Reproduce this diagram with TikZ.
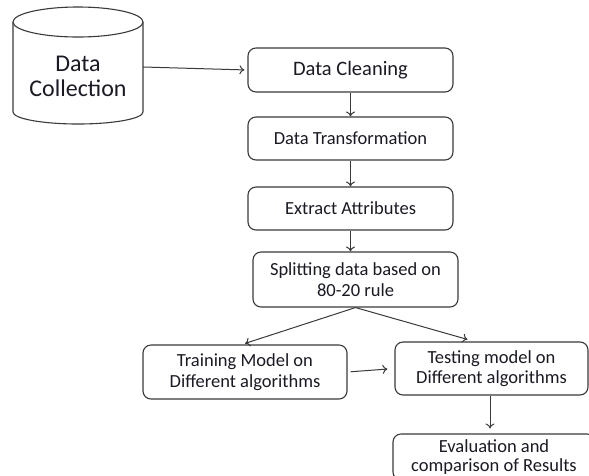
\documentclass[tikz,border=0pt]{standalone}
\usepackage{fontspec}
\setmainfont{Carlito}
\usetikzlibrary{arrows.meta}
\definecolor{ln}{HTML}{3A3A3A}
\definecolor{tx}{HTML}{1A1A24}
\tikzset{
  box/.style={draw=ln, line width=1.1pt, rounded corners=8pt, fill=white, text=tx, align=center, inner sep=0pt},
  conn/.style={draw=ln, line width=1pt, -{To[length=5pt,width=9pt]}},
}
\begin{document}
\begin{tikzpicture}[x=1pt,y=-1pt]
\useasboundingbox (0,0) rectangle (589,475);
% cylinder
\draw[ln, line width=1.1pt, fill=white] (13,22) -- (13,112) arc[start angle=180, end angle=0, x radius=65, y radius=12] -- (143,22);
\draw[ln, line width=1.1pt, fill=white] (78,22) ellipse [x radius=65, y radius=15];
\node[text=tx, align=center, font=\fontsize{24}{25}\selectfont, minimum width=130pt, minimum height=40pt, inner sep=0pt] (coll) at (78,76) {Data\\Collection};

\node[box, minimum width=205pt, minimum height=44pt, font=\fontsize{20.5}{22}\selectfont] (clean) at (350.5,70) {Data Cleaning};
\node[box, minimum width=205pt, minimum height=43pt, font=\fontsize{18.5}{20}\selectfont] (trans) at (350.5,138.5) {Data Transformation};
\node[box, minimum width=205pt, minimum height=43pt, font=\fontsize{18.5}{20}\selectfont] (extract) at (350.5,208.5) {Extract Attributes};
\node[box, minimum width=205pt, minimum height=55pt, font=\fontsize{18.5}{21}\selectfont] (split) at (355.5,279.5) {Splitting data based on\\80-20 rule};
\node[box, minimum width=204pt, minimum height=54pt, font=\fontsize{18.5}{20.5}\selectfont] (train) at (245,372) {Training Model on\\Different algorithms};
\node[box, minimum width=193pt, minimum height=53pt, font=\fontsize{18.5}{20.5}\selectfont] (test) at (491.5,368.5) {Testing model on\\Different algorithms};
\node[box, minimum width=202pt, minimum height=46pt, font=\fontsize{18.5}{18.5}\selectfont] (eval) at (494,457) {Evaluation and\\comparison of Results};

\draw[conn, shorten >=3pt] ([yshift=9pt]coll.east) -- (clean.west);
\draw[conn] (clean.south) -- (trans.north);
\draw[conn] (trans.south) -- (extract.north);
\draw[conn] ([xshift=-5pt]split.north |- extract.south) -- ([xshift=-5pt]split.north);
\draw[conn] (split.south) -- ([yshift=1pt]train.north);
\draw[conn] (split.south) -- ([xshift=-24pt,yshift=2pt]test.north);
\draw[conn, shorten <=3pt, shorten >=7pt] (train.east) -- (test.west);
\draw[conn, shorten >=5pt] ([xshift=-1.5pt]test.south) -- ([xshift=-1.5pt]test.south |- eval.north);
\end{tikzpicture}
\end{document}
